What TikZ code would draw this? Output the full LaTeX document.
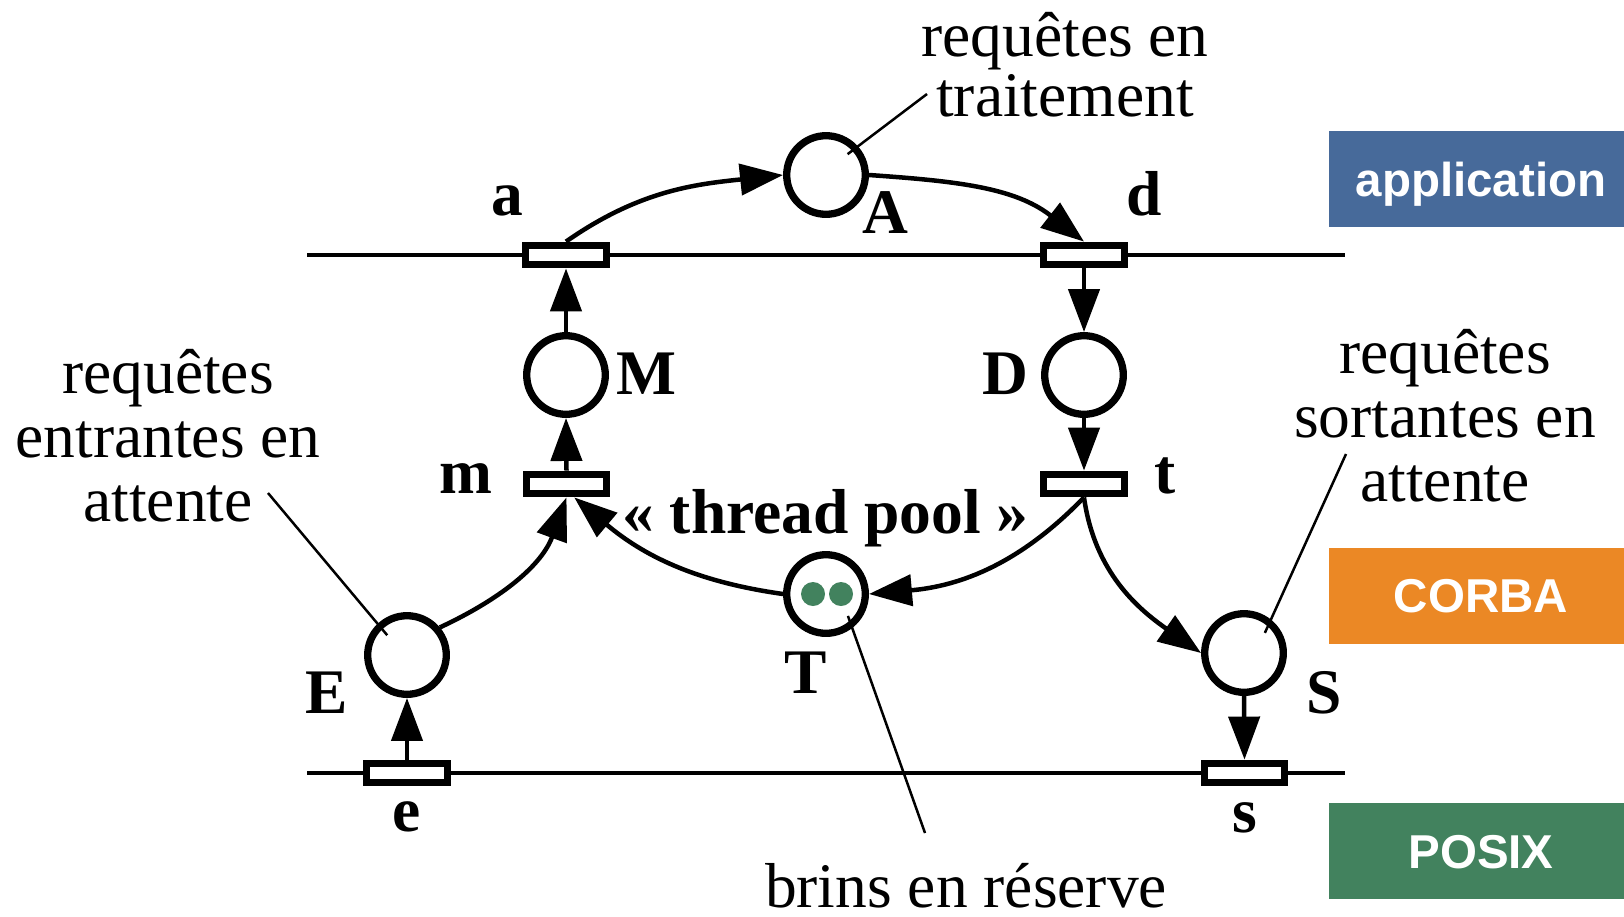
\documentclass[tikz,border=0pt]{standalone}
\usepackage{fontspec}
\setmainfont{Liberation Serif}
\newfontfamily\boxfont{Liberation Sans}
\usetikzlibrary{arrows.meta,calc}
\definecolor{appblue}{HTML}{476A9A}
\definecolor{corbaor}{HTML}{EB8825}
\definecolor{posixgr}{HTML}{42825E}
\begin{document}
\begin{tikzpicture}[x=1pt,y=1pt,
  place/.style={circle, draw, line width=7.3pt, minimum size=78.6pt, inner sep=0pt},
  trans/.style={rectangle, draw, fill=white, line width=7.3pt, minimum width=80.5pt, minimum height=19.5pt, inner sep=0pt},
  arc/.style={line width=4.5pt, -{Triangle[length=43pt,width=31pt]}},
  lbl/.style={font=\fontsize{63.5}{60}\selectfont\bfseries, anchor=base, inner sep=0pt},
  txt/.style={font=\fontsize{63.5}{#1}\selectfont, align=center, inner sep=0pt, anchor=base},
  leader/.style={line width=2.5pt},
  axisline/.style={line width=3.3pt},
  layerbox/.style={fill=#1, minimum width=304pt, minimum height=96pt, inner sep=0pt,
     font=\boxfont\bfseries\fontsize{47.5}{50}\selectfont, text=white, text height=34pt, text depth=0pt},
  token/.style={circle, fill=posixgr, minimum size=24pt, inner sep=0pt}
]
\useasboundingbox (0,0) rectangle (1624,-916);

% layer boxes
\node[layerbox=appblue] (lapp) at (1481,-179) {application};
\node[layerbox=corbaor] (lcorba) at (1481,-595.5) {CORBA};
\node[layerbox=posixgr] (lposix) at (1481,-851) {POSIX};

% layer separation lines
\coordinate (l1a) at (307,-255);
\coordinate (l1b) at (1345,-255);
\coordinate (l2a) at (307,-773);
\coordinate (l2b) at (1345,-773);
\draw[axisline] (l1a) -- (l1b);
\draw[axisline] (l2a) -- (l2b);

% places
\node[place] (A) at (826,-175) {};
\node[place] (M) at (566,-375) {};
\node[place] (D) at (1084,-375) {};
\node[place] (T) at (826,-594) {};
\node[place] (E) at (407,-655) {};
\node[place] (S) at (1244,-653) {};

% tokens
\node[token] (tok1) at (813,-594) {};
\node[token] (tok2) at (841,-594) {};

% transitions
\node[trans] (a) at (566,-255) {};
\node[trans] (d) at (1084,-255) {};
\node[trans] (m) at (566.5,-484) {};
\node[trans] (t) at (1084,-484) {};
\node[trans] (e) at (407,-773) {};
\node[trans] (s) at (1244.5,-773) {};

% arcs
\draw[arc] (a.north) to[out=35,in=186] (A.west);
\draw[arc] (A.east) to[out=-4,in=142] (d.north);
\draw[arc] (d.south) -- (D.north);
\draw[arc] (D.south) -- (t.north);
\draw[arc] (m.north) -- (M.south);
\draw[arc] (M.north) -- (a.south);
\draw[arc] (e.north) -- (E.south);
\draw[arc] (S.south) -- (s.north);
\draw[arc] (t.south) to[out=-134,in=5] (T.east);
\draw[arc] (t.south) to[out=-82,in=145] (S.west);
\draw[arc] (T.west) to[out=172,in=-40] (m.-60);
\draw[arc] (E.40) to[out=25,in=-110] (m.south);

% labels
\node[lbl] (la) at (507.5,-215) {a};
\node[lbl] (lA) at (885,-233) {A};
\node[lbl] (ld) at (1144.5,-215) {d};
\node[lbl] (lM) at (646,-394) {M};
\node[lbl] (lD) at (1005,-394) {D};
\node[lbl] (lm) at (466,-493) {m};
\node[lbl] (lt) at (1165,-493) {t};
\node[lbl] (lE) at (327,-713) {E};
\node[lbl] (lS) at (1324,-713) {S};
\node[lbl] (lT) at (806,-693) {T};
\node[lbl] (le) at (406.5,-831) {e};
\node[lbl] (ls) at (1245,-832) {s};
\node[lbl] (pool) at (825.5,-533) {«~thread pool~»};

% texts (anchor base = baseline of last line)
\node[txt=60] (ttop) at (1065,-116) {requêtes en\\traitement};
\node[txt=64] (tleft) at (168,-521) {requêtes\\entrantes en\\attente};
\node[txt=64] (tright) at (1445,-501) {requêtes\\sortantes en\\attente};
\node[txt=64] (tbot) at (966,-907) {brins en réserve};

% leaders
\coordinate (ctop) at (927,-94);
\coordinate (cleft) at (268,-493);
\coordinate (cright) at (1346,-454);
\coordinate (cbot) at (925,-833);
\draw[leader] (ctop) -- ($(A)+(44:30)$);
\draw[leader] (cleft) -- ($(E)+(135:28)$);
\draw[leader] (cright) -- ($(S)+(44:29)$);
\draw[leader] (cbot) -- ($(T)+(-45:31)$);
\end{tikzpicture}
\end{document}
